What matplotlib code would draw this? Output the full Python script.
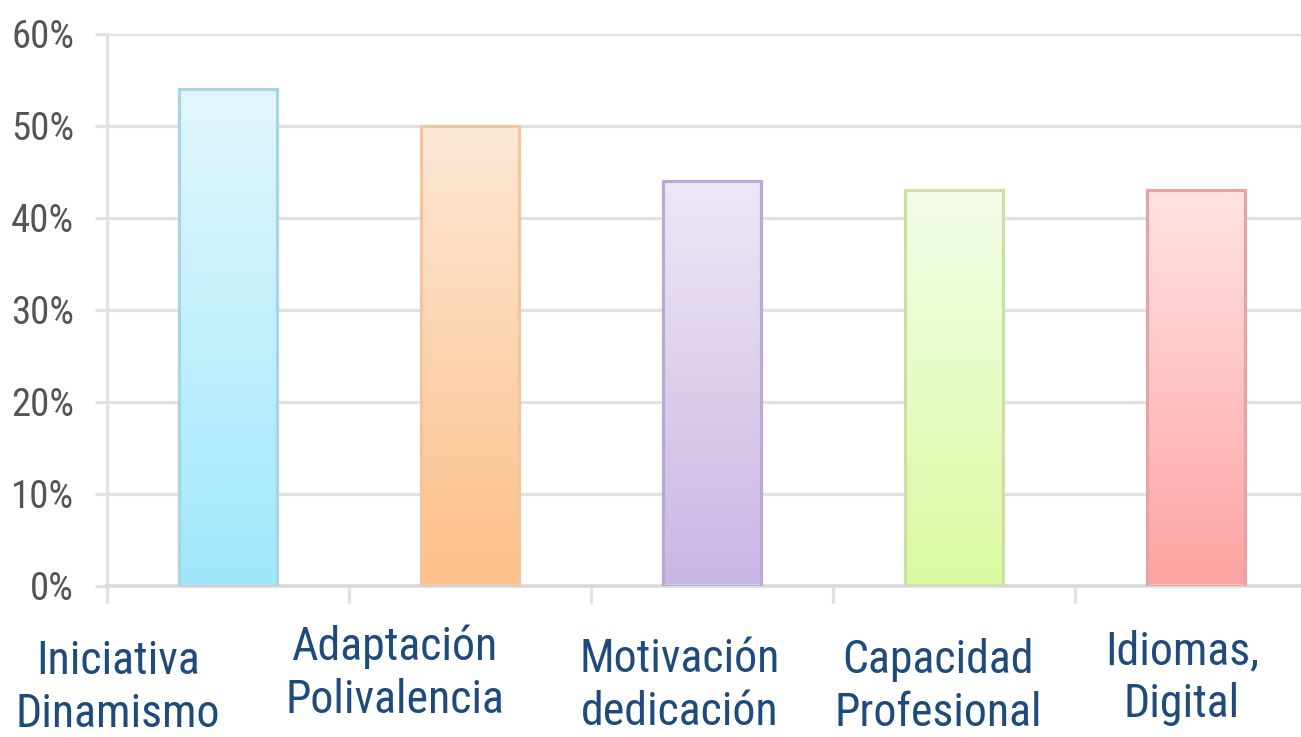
import matplotlib
matplotlib.use('Agg')
import matplotlib.pyplot as plt
from matplotlib.colors import LinearSegmentedColormap
from matplotlib.ticker import PercentFormatter
import numpy as np

categories = ['Iniciativa\nDinamismo', 'Adaptación\nPolivalencia', 'Motivación\ndedicación',
              'Capacidad\nProfesional', 'Idiomas,\nDigital']
values = [0.54, 0.50, 0.44, 0.43, 0.43]
yticks = [0.0, 0.1, 0.2, 0.3, 0.4, 0.5, 0.6]

topColors = ['#e2f7fd', '#fde7d6', '#eee7f6', '#f3fde8', '#ffe3e3']
bottomColors = ['#a0e7fc', '#fcc088', '#c9b7e4', '#d9faa0', '#fea3a1']
edgeColors = ['#a6d6e4', '#f3c59e', '#bba9d4', '#c9e2a4', '#e2a4a4']

# label placement in pixels (center x, first baseline y), they are not centred on the bars
labelPos = [(118, 674), (395, 660), (680, 672), (938, 673), (1182, 664)]
lineStep = 53

W, H = 1301, 737
fig = plt.figure(figsize=(W/100, H/100), dpi=100)
catWidth = 242
ax = fig.add_axes([107/W, 151/H, 5*catWidth/W, 552/H])

x = np.arange(len(values))
bars = ax.bar(x, values, width=0.405, color='none', edgecolor=edgeColors, linewidth=2.3, zorder=3)
for i, bar in enumerate(bars):
    cmap = LinearSegmentedColormap.from_list('g%d' % i, [topColors[i], bottomColors[i]])
    grad = np.linspace(0, 1, 256).reshape(-1, 1)
    img = ax.imshow(grad, cmap=cmap, aspect='auto', zorder=2,
                    extent=[bar.get_x(), bar.get_x() + bar.get_width(), 0, bar.get_height()],
                    origin='upper')
    img.set_clip_path(bar)

ax.set_xlim(-0.5, len(values) - 0.5)
ax.set_ylim(0, 0.6)
ax.set_yticks(yticks)
ax.yaxis.set_major_formatter(PercentFormatter(1.0, decimals=0))
ax.set_xticks(np.arange(len(values) + 1) - 0.5)
ax.set_xticklabels([])

gridColor = '#e1e1e1'
ax.grid(axis='y', color=gridColor, linewidth=2.3, zorder=0)
ax.set_axisbelow(True)
for s in ['top', 'right']:
    ax.spines[s].set_visible(False)
ax.spines['left'].set_color(gridColor)
ax.spines['left'].set_linewidth(2.3)
ax.spines['bottom'].set_color('#dadada')
ax.spines['bottom'].set_linewidth(2.6)
ax.tick_params(axis='y', length=8.6, width=2.3, color=gridColor, pad=15,
               labelsize=28, labelcolor='#555555')
ax.tick_params(axis='x', length=12, width=2.3, color=gridColor)
for t in ax.get_yticklabels():
    t.set_family(['Roboto Condensed', 'DejaVu Sans'])

labelFont = ['Roboto Condensed', 'DejaVu Sans']
for (px, py), name in zip(labelPos, categories):
    for k, line in enumerate(name.split('\n')):
        fig.text(px/W, 1 - (py + k*lineStep)/H, line, ha='center', va='baseline',
                 fontsize=33, color='#1f4a7c', family=labelFont)

fig.savefig('out.png', dpi=100)
